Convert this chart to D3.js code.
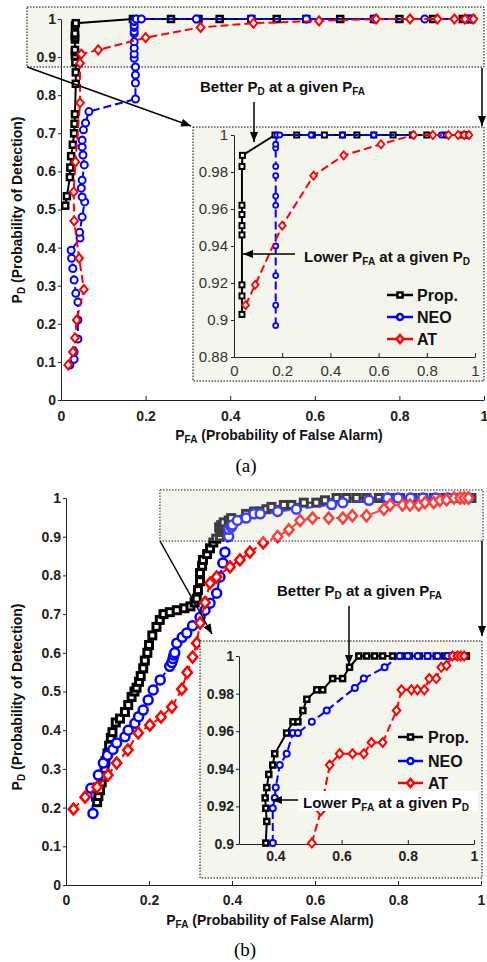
<!DOCTYPE html>
<html>
<head>
<meta charset="utf-8">
<script src="https://cdn.jsdelivr.net/npm/d3@7"></script>
<style>
body{margin:0;background:#fff;}
svg{display:block;}
text{font-family:"Liberation Sans",Arial,sans-serif;}
</style>
</head>
<body>
<svg id="chart" width="487" height="962"></svg>
<script>
// panel (a) curves, [PFA, PD]
var propA = [[0.010,0.51],[0.014,0.535],[0.021,0.585],[0.022,0.61],[0.024,0.64],[0.028,0.67],[0.031,0.70],[0.032,0.725],[0.033,0.75],[0.035,0.83],[0.035,0.86],[0.034,0.886],[0.033,0.903],[0.033,0.913],[0.033,0.919],[0.033,0.946],[0.033,0.951],[0.033,0.957],[0.033,0.962],[0.033,0.983],[0.035,0.989],[0.17,1],[0.26,1],[0.325,1],[0.375,1],[0.45,1],[0.51,1],[0.58,1],[0.66,1],[0.74,1],[0.80,1],[0.88,1],[0.95,1],[0.965,1],[0.97,1]];
var neoA = [[0.021,0.092],[0.031,0.107],[0.031,0.126],[0.040,0.16],[0.040,0.21],[0.040,0.257],[0.035,0.28],[0.031,0.315],[0.028,0.345],[0.025,0.372],[0.024,0.393],[0.045,0.425],[0.044,0.44],[0.050,0.48],[0.056,0.52],[0.050,0.533],[0.048,0.556],[0.050,0.577],[0.055,0.617],[0.052,0.643],[0.050,0.664],[0.050,0.682],[0.053,0.709],[0.058,0.727],[0.066,0.757],[0.176,0.79],[0.176,0.832],[0.176,0.853],[0.176,0.874],[0.173,0.897],[0.173,0.908],[0.173,0.924],[0.173,0.94],[0.173,0.962],[0.173,0.967],[0.173,0.978],[0.173,0.983],[0.173,0.993],[0.173,0.995],[0.178,1],[0.19,1],[0.32,1],[0.45,1],[0.58,1],[0.74,1],[0.86,1],[0.96,1],[0.97,1]];
var atA = [[0.017,0.092],[0.028,0.126],[0.033,0.163],[0.037,0.21],[0.054,0.29],[0.043,0.372],[0.031,0.47],[0.030,0.546],[0.034,0.625],[0.045,0.78],[0.045,0.884],[0.048,0.908],[0.088,0.919],[0.20,0.951],[0.33,0.978],[0.455,0.989],[0.61,0.995],[0.745,1],[0.825,1],[0.89,1],[0.93,1],[0.955,1],[0.975,1]];

// panel (b) curves
var propB = [[0.075,0.214],[0.078,0.23],[0.082,0.245],[0.086,0.265],[0.090,0.28],[0.093,0.30],[0.095,0.32],[0.100,0.34],[0.104,0.36],[0.108,0.38],[0.112,0.395],[0.120,0.42],[0.130,0.43],[0.142,0.447],[0.150,0.465],[0.158,0.486],[0.165,0.50],[0.170,0.51],[0.176,0.525],[0.180,0.54],[0.186,0.56],[0.190,0.58],[0.196,0.60],[0.200,0.62],[0.208,0.645],[0.218,0.667],[0.226,0.685],[0.235,0.70],[0.250,0.705],[0.267,0.71],[0.285,0.715],[0.300,0.72],[0.310,0.73],[0.315,0.74],[0.318,0.762],[0.323,0.785],[0.323,0.806],[0.328,0.825],[0.330,0.84],[0.340,0.855],[0.347,0.87],[0.355,0.885],[0.362,0.895],[0.371,0.9005],[0.374,0.912],[0.371,0.919],[0.369,0.9245],[0.374,0.930],[0.380,0.937],[0.392,0.942],[0.398,0.948],[0.434,0.959],[0.453,0.965],[0.468,0.965],[0.483,0.971],[0.495,0.977],[0.525,0.982],[0.543,0.982],[0.573,0.988],[0.603,0.988],[0.624,0.994],[0.652,1],[0.676,1],[0.70,1],[0.724,1],[0.754,1],[0.781,1],[0.805,1],[0.835,1],[0.86,1],[0.886,1],[0.91,1],[0.935,1],[0.956,1],[0.977,1]];
var neoB = [[0.065,0.185],[0.060,0.25],[0.078,0.284],[0.090,0.315],[0.100,0.335],[0.113,0.35],[0.122,0.367],[0.142,0.383],[0.150,0.40],[0.166,0.418],[0.175,0.435],[0.186,0.452],[0.198,0.478],[0.21,0.504],[0.227,0.53],[0.25,0.565],[0.255,0.575],[0.258,0.585],[0.26,0.594],[0.262,0.60],[0.267,0.625],[0.28,0.64],[0.291,0.651],[0.305,0.67],[0.323,0.692],[0.335,0.71],[0.347,0.728],[0.363,0.754],[0.371,0.796],[0.378,0.832],[0.383,0.86],[0.392,0.9005],[0.392,0.919],[0.398,0.9245],[0.401,0.93],[0.413,0.942],[0.434,0.948],[0.453,0.959],[0.468,0.959],[0.51,0.965],[0.555,0.971],[0.64,0.983],[0.667,0.988],[0.73,0.994],[0.775,1],[0.80,1],[0.83,1],[0.86,1],[0.89,1],[0.92,1],[0.95,1],[0.97,1]];
var atB = [[0.018,0.196],[0.046,0.227],[0.075,0.253],[0.101,0.284],[0.122,0.315],[0.149,0.349],[0.174,0.393],[0.202,0.413],[0.229,0.434],[0.255,0.46],[0.279,0.506],[0.292,0.549],[0.305,0.589],[0.315,0.625],[0.323,0.677],[0.335,0.73],[0.347,0.78],[0.363,0.796],[0.395,0.822],[0.419,0.84],[0.443,0.86],[0.475,0.884],[0.51,0.9005],[0.537,0.9176],[0.564,0.942],[0.594,0.948],[0.633,0.948],[0.667,0.948],[0.69,0.954],[0.724,0.954],[0.766,0.971],[0.781,0.982],[0.811,0.982],[0.829,0.982],[0.85,0.982],[0.865,0.988],[0.886,0.988],[0.901,0.994],[0.917,0.995],[0.935,1],[0.95,1],[0.96,1],[0.97,1]];

// ticks and labels
var mainXTicks = [0,0.2,0.4,0.6,0.8,1];
var mainYTicks = [0,0.1,0.2,0.3,0.4,0.5,0.6,0.7,0.8,0.9,1];
var insetAXTicks = [0,0.2,0.4,0.6,0.8,1];
var insetAYTicks = [0.88,0.9,0.92,0.94,0.96,0.98,1];
var insetBXTicks = [0.4,0.6,0.8,1];
var insetBYTicks = [0.9,0.92,0.94,0.96,0.98,1];
var seriesNames = ["Prop.","NEO","AT"];
var seriesColors = ["#000000","#0000ff","#ff0000"];
var seriesKinds = ["square","circle","diamond"];
var seriesDash = [null,"8,4","8,4"];

var svg = d3.select("#chart");
var defs = svg.append("defs");
defs.append("marker").attr("id","arrow")
    .attr("viewBox","0 0 10 10").attr("refX",10).attr("refY",5)
    .attr("markerWidth",10).attr("markerHeight",10).attr("markerUnits","userSpaceOnUse")
    .attr("orient","auto")
    .append("path").attr("d","M0,1L10,5L0,9Z").attr("fill","#000");

var fmt = d3.format("~g");
var boxFill = "#f4f6ee";
var clipCount = 0;

function zoomBox(g, x0, y0, x1, y1, fillOpacity) {
    g.append("rect").attr("x",x0).attr("y",y0).attr("width",x1-x0).attr("height",y1-y0)
        .attr("fill",boxFill).attr("fill-opacity",fillOpacity)
        .attr("stroke","#000").attr("stroke-width",1).attr("stroke-dasharray","1.5,1.5");
}

function drawAxes(g, x, y, xt, yt, o) {
    var xa = g.append("g")
        .attr("transform","translate(0," + y.range()[0] + ")")
        .call(d3.axisBottom(x).tickValues(xt).tickFormat(fmt).tickSizeInner(-4).tickSizeOuter(0).tickPadding(o.xpad));
    var ya = g.append("g")
        .attr("transform","translate(" + x.range()[0] + ",0)")
        .call(d3.axisLeft(y).tickValues(yt).tickFormat(fmt).tickSizeInner(3).tickSizeOuter(0).tickPadding(o.ypad));
    [xa, ya].forEach(function(a){
        a.attr("font-family",null).attr("font-size",null);
        a.select(".domain").attr("stroke","#222");
        a.selectAll(".tick line").attr("stroke","#222");
        a.selectAll("text").attr("fill",o.color).style("font-size",o.size+"px").style("font-weight",o.weight);
    });
}

function drawMarkers(g, data, x, y, kind, size, color, sw) {
    var sel = g.selectAll(null).data(data).enter();
    var m;
    if (kind === "square") {
        m = sel.append("rect")
            .attr("x", function(d){ return x(d[0]) - size/2; })
            .attr("y", function(d){ return y(d[1]) - size/2; })
            .attr("width", size).attr("height", size);
    } else if (kind === "circle") {
        m = sel.append("circle")
            .attr("cx", function(d){ return x(d[0]); })
            .attr("cy", function(d){ return y(d[1]); })
            .attr("r", size/2);
    } else {
        m = sel.append("path").attr("d", function(d){
            var cx = x(d[0]), cy = y(d[1]), h = size/2 + 1;
            return "M"+cx+","+(cy-h)+"L"+(cx+h*0.85)+","+cy+"L"+cx+","+(cy+h)+"L"+(cx-h*0.85)+","+cy+"Z";
        });
    }
    m.attr("fill","#fff").attr("stroke",color).attr("stroke-width",sw);
}

function drawCurves(g, x, y, list, sizes, sws, pad) {
    var id = "clip" + (clipCount++);
    var xr = x.range(), yr = y.range();
    defs.append("clipPath").attr("id", id).append("rect")
        .attr("x", xr[0]-pad).attr("y", yr[1]-pad)
        .attr("width", xr[1]-xr[0]+2*pad).attr("height", yr[0]-yr[1]+2*pad);
    var cg = g.append("g").attr("clip-path","url(#" + id + ")");
    var line = d3.line().x(function(d){ return x(d[0]); }).y(function(d){ return y(d[1]); });
    list.forEach(function(data, i){
        cg.append("path").datum(data).attr("d", line)
            .attr("fill","none").attr("stroke",seriesColors[i]).attr("stroke-width",2)
            .attr("stroke-dasharray",seriesDash[i]);
        drawMarkers(cg, data, x, y, seriesKinds[i], sizes[i], seriesColors[i], sws[i]);
    });
}

function drawLegend(g, x0, x1, x2, rows, sizes) {
    seriesNames.forEach(function(name, i){
        var yy = rows[i];
        g.append("line").attr("x1",x0).attr("x2",x1).attr("y1",yy).attr("y2",yy)
            .attr("stroke",seriesColors[i]).attr("stroke-width",2.5);
        var cx = (x0 + x1) / 2;
        drawMarkers(g, [[cx, yy]], function(v){ return v; }, function(v){ return v; },
            seriesKinds[i], sizes[i], seriesColors[i], 2.5);
        g.append("text").attr("x",x2).attr("y",yy+6).text(name)
            .style("font-size","16px").style("font-weight","bold").attr("fill","#111");
    });
}

function richText(g, x, y, parts, size) {
    var t = g.append("text").attr("x",x).attr("y",y)
        .style("font-size",size+"px").style("font-weight","bold").attr("fill","#111");
    var shift = 0;
    parts.forEach(function(p){
        var sub = p[1];
        var dy = sub ? 3 - shift : -shift;
        shift = sub ? 3 : 0;
        t.append("tspan").attr("dy",dy).style("font-size",(sub ? size-5 : size)+"px").text(p[0]);
    });
    return t;
}

function arrow(g, x1, y1, x2, y2) {
    g.append("line").attr("x1",x1).attr("y1",y1).attr("x2",x2).attr("y2",y2)
        .attr("stroke","#000").attr("stroke-width",1.5).attr("marker-end","url(#arrow)");
}

function yTitle(g, cx, cy) {
    var t = g.append("text").attr("transform","translate(" + cx + "," + cy + ") rotate(-90)")
        .attr("text-anchor","middle").style("font-size","14px").style("font-weight","bold").attr("fill","#111");
    t.append("tspan").text("P");
    t.append("tspan").attr("dy",3).style("font-size","10px").text("D");
    t.append("tspan").attr("dy",-3).text(" (Probability of Detection)");
}

function xTitle(g, cx, cy) {
    var t = g.append("text").attr("x",cx).attr("y",cy)
        .attr("text-anchor","middle").style("font-size","14px").style("font-weight","bold").attr("fill","#111");
    t.append("tspan").text("P");
    t.append("tspan").attr("dy",3).style("font-size","10px").text("FA");
    t.append("tspan").attr("dy",-3).text(" (Probability of False Alarm)");
}

// ---------- panel (a) ----------
var ga = svg.append("g");
var xA = d3.scaleLinear().domain([0,1]).range([61,484]);
var yA = d3.scaleLinear().domain([0,1]).range([400,19]);
var xAi = d3.scaleLinear().domain([0,1]).range([234,475]);
var yAi = d3.scaleLinear().domain([0.88,1]).range([357,135]);

zoomBox(ga, 27, 7, 484, 67, 1);
drawAxes(ga, xA, yA, mainXTicks, mainYTicks, {xpad:11, ypad:2, size:14, weight:"bold", color:"#222"});
drawCurves(ga, xA, yA, [propA, neoA, atA], [6,7,7], [2.5,2,2], 8);
zoomBox(ga, 193, 127, 484, 381, 1);
drawAxes(ga, xAi, yAi, insetAXTicks, insetAYTicks, {xpad:8, ypad:3, size:15, weight:"normal", color:"#333"});
var insetFilterA = function(d){ return d[1] >= 0.895; };
drawCurves(ga, xAi, yAi, [propA.filter(insetFilterA), neoA.filter(insetFilterA), atA.filter(insetFilterA)], [5,5,6], [2,1.8,1.8], 7);
drawLegend(ga, 387, 413, 417, [295,317,339], [5,6,6]);
yTitle(ga, 22, 210);
xTitle(ga, 279, 440);
ga.append("text").attr("x",246).attr("y",472).attr("text-anchor","middle")
    .style("font-family","'Liberation Serif','Times New Roman',serif").style("font-size","19px").text("(a)");
arrow(ga, 27, 67, 191, 126);
arrow(ga, 482, 68, 482, 126);
richText(ga, 200, 92, [["Better "],["P"],["D",1],[" at a given "],["P"],["FA",1]], 15);
arrow(ga, 254, 102, 254, 142);
richText(ga, 304, 262, [["Lower "],["P"],["FA",1],[" at a given "],["P"],["D",1]], 15);
arrow(ga, 295, 254, 243, 254);

// ---------- panel (b) ----------
var gb = svg.append("g");
var xB = d3.scaleLinear().domain([0,1]).range([66,481]);
var yB = d3.scaleLinear().domain([0,1]).range([885,498]);
var xBi = d3.scaleLinear().domain([0.29,1]).range([239,474]);
var yBi = d3.scaleLinear().domain([0.9,1]).range([844,656]);

zoomBox(gb, 160, 490, 483, 541, 1);
drawAxes(gb, xB, yB, mainXTicks, mainYTicks, {xpad:10, ypad:2, size:14, weight:"bold", color:"#222"});
drawCurves(gb, xB, yB, [propB, neoB, atB], [7,9,9], [3,2.5,2.5], 8);
gb.append("rect").attr("x",160).attr("y",490).attr("width",323).attr("height",51)
    .attr("fill",boxFill).attr("fill-opacity",0.25);
zoomBox(gb, 200, 641, 482, 878, 1);
drawAxes(gb, xBi, yBi, insetBXTicks, insetBYTicks, {xpad:7, ypad:2, size:14, weight:"bold", color:"#222"});
var insetFilterB = function(d){ return d[1] >= 0.899; };
drawCurves(gb, xBi, yBi, [propB.filter(insetFilterB), neoB.filter(insetFilterB), atB.filter(insetFilterB)], [5,6,7], [2.5,2,2], 7);
drawLegend(gb, 398, 423, 428, [737,761,783], [5,6,6]);
yTitle(gb, 22, 697);
xTitle(gb, 270, 925);
gb.append("text").attr("x",245).attr("y",956).attr("text-anchor","middle")
    .style("font-family","'Liberation Serif','Times New Roman',serif").style("font-size","19px").text("(b)");
arrow(gb, 160, 541, 212, 634);
arrow(gb, 482, 541, 482, 636);
richText(gb, 277, 596, [["Better "],["P"],["D",1],[" at a given "],["P"],["FA",1]], 15);
arrow(gb, 349, 606, 349, 665);
gb.append("rect").attr("x",298).attr("y",791).attr("width",180).attr("height",20).attr("fill","#fff");
richText(gb, 303, 808, [["Lower "],["P"],["FA",1],[" at a given "],["P"],["D",1]], 15);
arrow(gb, 298, 800, 272, 800);
</script>
</body>
</html>
